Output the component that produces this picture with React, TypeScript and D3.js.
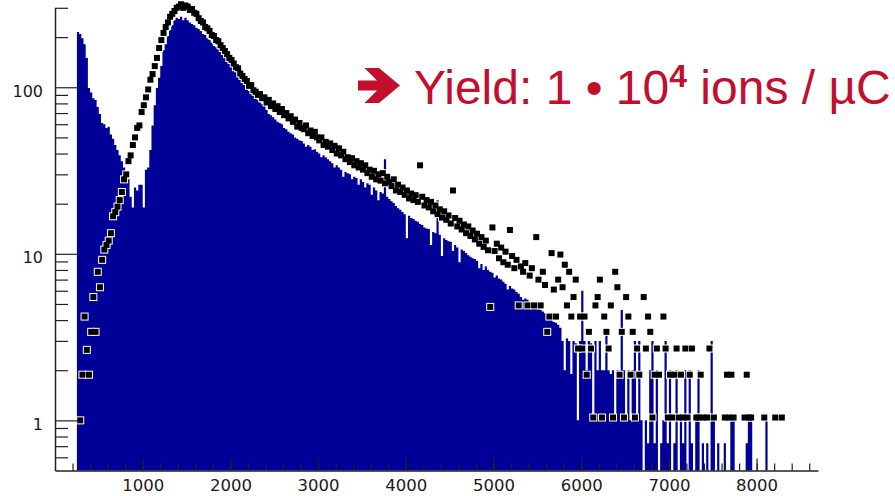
import React, { useEffect, useRef } from "react";
import * as d3 from "d3";

const WIDTH = 895;
const HEIGHT = 496;

// histogram binning (channel units)
const BIN_START = 250;
const BIN_WIDTH = 25;

// blue histogram, one value per bin (0 = empty bin)
const histCounts = [
  215, 209, 197, 181, 150, 99, 93, 86, 84, 76,
  69, 61, 60, 57, 58, 52, 49, 45, 42, 39,
  36, 33, 31, 28, 22, 19, 25, 24, 26, 26,
  19, 32, 33, 42, 59, 78, 99, 114, 134, 167,
  181, 203, 221, 236, 253, 261, 257, 265, 253, 261,
  253, 245, 240, 236, 228, 224, 218, 209, 206, 197,
  192, 186, 177, 174, 169, 163, 156, 150, 144, 139,
  133, 127, 124, 116, 111, 106, 105, 99, 95, 94,
  90, 87, 84, 81, 79, 78, 73, 69, 68, 66,
  64, 62, 61, 60, 57, 56, 54, 53, 52, 50,
  49, 48, 47.5, 46, 44, 45, 44, 42, 42.5, 41,
  40, 38, 39, 38, 37, 36, 35, 33, 34, 33,
  32, 29, 31, 30.5, 30, 28, 29, 28.5, 26, 28,
  27, 25, 26.5, 26, 22.6, 25, 24, 21, 23.5, 23,
  37, 22, 21.3, 20.7, 20.2, 19.4, 18.8, 18.4, 17.8, 17.3,
  12.4, 16.9, 16.4, 16.2, 15.8, 15.6, 15.1, 14.9, 14.4, 14.2,
  14.1, 11.3, 13.5, 13.3, 21, 13, 9.7, 12.4, 12.1, 11.9,
  11.8, 10.4, 11.3, 10.9, 8.9, 10.6, 10.4, 10.1, 9.8, 9.6,
  9.4, 9.3, 9.1, 8.2, 8.7, 8.0, 8.4, 8.0, 7.8, 7.7,
  7.2, 7.4, 7.1, 7.0, 6.8, 6.6, 6.1, 6.4, 6.2, 6.1,
  5.9, 5.75, 5.5, 5.3, 5.4, 5.3, 5.15, 5.1, 4.7, 4.9,
  4.7, 4.6, 4.5, 4.4, 4.35, 4.1, 4.0, 3.9, 3.85, 3.75,
  3.6, 3.0, 2.0, 3.1, 3.0, 1.9, 3.0, 2.9, 1.0, 3.0,
  6.0, 3.0, 2.0, 3.0, 2.9, 1.0, 3.0, 2.0, 3.0, 2.0,
  2.0, 3.5, 2.0, 1.9, 2.0, 1.0, 2.0, 1.9, 4.6, 2.0,
  1.0, 2.0, 1.0, 2.0, 3.0, 1.0, 3.0, 1.0, 0, 1.0,
  0.73, 2.0, 3.0, 0.73, 2.0, 0, 0.73, 1.0, 3.0, 0.73,
  2.0, 0, 0.73, 2.0, 0, 1.0, 0.73, 2.0, 0, 2.0,
  0.73, 0, 1.0, 2.0, 0, 0.73, 0, 0.73, 0, 3.0,
  1.0, 0, 0.73, 0, 0, 0.73, 0, 0, 1.0, 1.0,
  0, 0, 0, 0, 0, 0.73, 1.0, 1.0, 0, 0,
  0, 0, 0, 0, 1.0, 0, 0, 0, 0, 0,
  0, 0, 0, 0, 0, 0, 0,
];

// reference spectrum (black square markers), same binning
const refCounts = [
  0, 1.0, 1.88, 4.2, 2.65, 1.88, 3.4, 5.5, 3.4, 7.8,
  6.3, 9.2, 10.6, 11.3, 12, 13.3, 16.8, 17.8, 19.2, 21,
  23.5, 28, 30, 36, 39, 45, 50, 57, 59, 71,
  78, 87, 97, 111, 120, 134, 150, 172, 192, 212,
  230, 245, 265, 276, 287, 300, 305, 315, 300, 310,
  305, 291, 295, 280, 276, 260, 250, 245, 230, 226,
  218, 206, 203, 192, 189, 179, 172, 165, 158, 150,
  146, 139, 132, 130, 121, 117, 112, 109, 102, 103,
  96, 94, 90, 91, 86, 87, 81, 84, 77, 80,
  74, 77, 71, 74, 68, 70, 65, 67, 62, 64,
  58, 61, 57, 56, 59, 53, 55, 51, 54, 50,
  48, 50, 45, 47, 44, 46, 42, 44.5, 40, 43,
  39, 41, 37, 38, 35.5, 37.5, 34, 36, 33, 35,
  32, 34, 30.5, 32, 29, 31.5, 28, 30, 27.5, 30.5,
  26.5, 29, 27, 25.5, 28, 24, 26, 23.5, 25, 22.6,
  24, 21.5, 23, 21, 22.5, 20.5, 34, 22, 19.5, 21,
  19, 20.5, 18, 19.5, 17.3, 18.5, 16.5, 18, 16, 17,
  15.2, 24, 16.4, 14.6, 15.8, 14, 15, 13.3, 14.6, 12.8,
  13.8, 12.2, 13.2, 11.5, 12.6, 11, 12, 10.5, 4.8, 14.4,
  10.4, 11.5, 9.4, 10.9, 8.9, 10.3, 8.6, 13.9, 9.7, 8.2,
  9.2, 4.9, 8.4, 7.8, 8.8, 4.9, 7.4, 8.2, 4.9, 12.6,
  7.0, 4.9, 7.8, 6.5, 3.4, 4.2, 10.1, 6.1, 4.2, 7.0,
  9.9, 6.3, 8.6, 4.9, 7.8, 4.2, 5.5, 7.0, 2.7, 4.2,
  2.7, 4.2, 1.88, 3.4, 2.7, 1.04, 4.9, 5.5, 7.0, 1.04,
  4.2, 3.4, 2.7, 4.9, 1.04, 7.8, 6.3, 1.88, 3.4, 1.04,
  5.5, 4.2, 1.88, 3.4, 1.04, 2.7, 1.88, 0, 5.5, 2.7,
  4.2, 3.4, 1.04, 1.88, 2.7, 1.88, 0, 4.2, 2.7, 1.04,
  1.88, 1.04, 1.88, 2.7, 1.04, 1.88, 1.04, 2.7, 1.04, 1.88,
  2.7, 0, 1.04, 1.04, 1.88, 1.04, 0, 1.04, 2.7, 0,
  1.04, 0, 0, 0, 0, 1.04, 1.88, 1.04, 1.88, 1.04,
  0, 0, 0, 0, 1.04, 1.88, 1.04, 1.04, 0, 0,
  0, 0, 0, 1.04, 0, 0, 0, 0, 1.04, 0,
  0, 1.04, 0, 0, 0, 0, 0,
];

const xLabelTicks = [1000, 2000, 3000, 4000, 5000, 6000, 7000, 8000];
const xMinorTicks = d3.range(200, 8700, 200);
const yLabelTicks = [1, 10, 100];
const yMinorTicks = [0.6, 0.7, 0.8, 0.9, 2, 3, 4, 5, 6, 7, 8, 9, 20, 30, 40, 50, 60, 70, 80, 90, 200, 300];

const BLUE = "#000099";
const RED = "#c20f2f";
const AXIS = "#222";

const App = () => {
  const svgRef = useRef<SVGSVGElement | null>(null);

  useEffect(() => {
    if (!svgRef.current) return;
    const svg = d3.select(svgRef.current);
    svg.selectAll("*").remove();

    const x = d3.scaleLinear().domain([0, 8700]).range([55, 818]);
    const y = d3.scaleLog().domain([0.5, 300]).range([470.5, 7.8]);
    const yBottom = y(0.5);
    const binLo = (i: number) => BIN_START + i * BIN_WIDTH;

    // ── blue histogram (filled steps) ─────────────────────────────────
    const pts = histCounts.map((v, i) => ({ x: binLo(i), v }));
    pts.push({ x: binLo(histCounts.length), v: 0 });
    const area = d3.area<{ x: number; v: number }>()
      .x(d => x(d.x))
      .y0(yBottom)
      .y1(d => (d.v > 0 ? y(d.v) : yBottom))
      .curve(d3.curveStepAfter);
    svg.append("path").datum(pts).attr("d", area).attr("fill", BLUE);

    // ── reference markers: white halo first, then black squares ───────
    const marks = refCounts
      .map((v, i) => ({ cx: x(binLo(i) + BIN_WIDTH / 2), v }))
      .filter(d => d.v > 0);
    svg.append("g").selectAll("rect").data(marks).join("rect")
      .attr("x", d => d.cx - 4).attr("y", d => y(d.v) - 4)
      .attr("width", 8).attr("height", 8).attr("fill", "#fff");
    svg.append("g").selectAll("rect").data(marks).join("rect")
      .attr("x", d => d.cx - 3).attr("y", d => y(d.v) - 3)
      .attr("width", 6).attr("height", 6).attr("fill", "#000");

    // ── x axis (ticks point inward) ───────────────────────────────────
    const xMinor = svg.append("g").attr("transform", `translate(0,${yBottom})`)
      .call(d3.axisBottom(x).tickValues(xMinorTicks).tickSize(-7).tickSizeOuter(0).tickFormat(() => ""));
    xMinor.select(".domain").attr("stroke", AXIS).attr("stroke-width", 1.5);
    xMinor.selectAll(".tick line").attr("stroke", AXIS).attr("stroke-width", 1.2);

    const xMajor = svg.append("g").attr("transform", `translate(0,${yBottom})`)
      .call(d3.axisBottom(x).tickValues(xLabelTicks).tickSize(-12).tickSizeOuter(0).tickPadding(9).tickFormat(d3.format("d")));
    xMajor.select(".domain").remove();
    xMajor.selectAll(".tick line").attr("stroke", AXIS).attr("stroke-width", 1.2);
    xMajor.selectAll(".tick text")
      .attr("fill", "#1a1a1a").attr("font-size", "16.5px").attr("font-family", "DejaVu Sans, sans-serif");

    // ── y axis (log, ticks point inward) ──────────────────────────────
    const yMinor = svg.append("g").attr("transform", "translate(55,0)")
      .call(d3.axisLeft(y).tickValues(yMinorTicks).tickSize(-13).tickSizeOuter(0).tickFormat(() => ""));
    yMinor.select(".domain").attr("stroke", AXIS).attr("stroke-width", 1.5);
    yMinor.selectAll(".tick line").attr("stroke", AXIS).attr("stroke-width", 1.2);

    const yMajor = svg.append("g").attr("transform", "translate(55,0)")
      .call(d3.axisLeft(y).tickValues(yLabelTicks).tickSize(-23).tickSizeOuter(0).tickPadding(12).tickFormat(d3.format("d")));
    yMajor.select(".domain").remove();
    yMajor.selectAll(".tick line").attr("stroke", AXIS).attr("stroke-width", 1.2);
    yMajor.selectAll(".tick text")
      .attr("fill", "#1a1a1a").attr("font-size", "16px").attr("font-family", "DejaVu Sans, sans-serif")
      .attr("dy", "0.56em");

    // ── annotation: heavy arrow + yield text ──────────────────────────
    svg.append("path")
      .attr("d", "M358,80.5 L377,80.5 L364.5,68 L379,68 L400,85.5 L379,103 L364.5,103 L377,90.5 L358,90.5 Z")
      .attr("fill", RED);

    const t = svg.append("text")
      .attr("x", 414).attr("y", 104)
      .attr("font-family", "Liberation Sans, Arial, sans-serif").attr("font-size", "48px")
      .attr("fill", RED);
    t.append("tspan").text("Yield: 1 • 10");
    t.append("tspan").attr("font-size", "32px").attr("font-weight", "bold").attr("dy", -17).text("4");
    t.append("tspan").attr("font-size", "48px").attr("dy", 17).text(" ions / µC");
  }, []);

  return (
    <svg
      ref={svgRef}
      width={WIDTH}
      height={HEIGHT}
      style={{ position: "absolute", left: 0, top: 0, display: "block", background: "#fff" }}
    />
  );
};

export default App;
